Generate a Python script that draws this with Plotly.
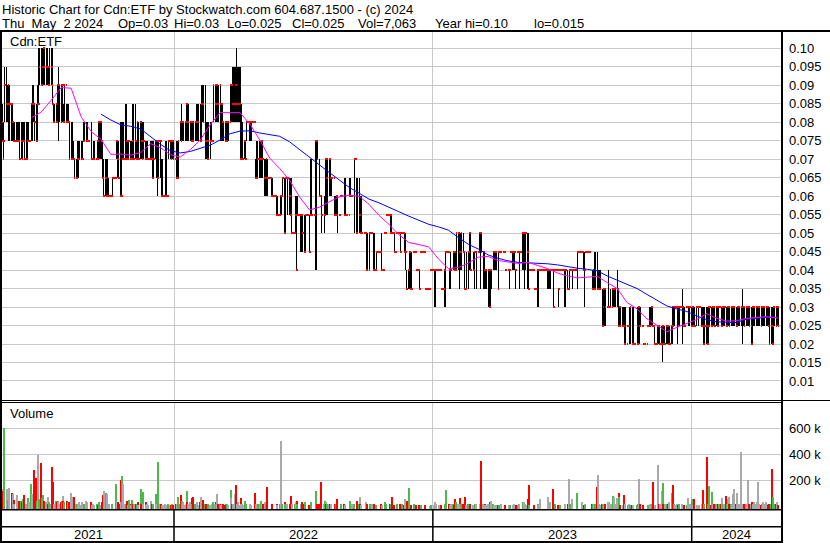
import pandas as pd
import plotly.graph_objects as go

# ---------------------------------------------------------------- data
TITLE = "Historic Chart for Cdn:ETF by Stockwatch.com 604.687.1500 - (c) 2024"
LAST_DATE = "2024-05-02"
X_RANGE = ["2021-05-03 11:00", "2024-05-05 22:00"]
HALF_CENT = 0.005   # price lists below are in half-cent units (16 -> $0.080)

hi_hc = [
    17,17,16,16,19,19,18,18,18,18, 17,17,16,16,16,16,15,16,15,16, 16,16,16,15,16,16,15,16,16,15,
    17,17,18,18,17,17,17,18,20,20, 20,20,20,20,20,20,20,20,19,20, 20,20,18,17,17,17,17,18,19,18,
    18,18,18,17,18,18,17,17,17,16, 16,16,15,15,14,14,14,15,15,15, 15,15,15,14,16,16,15,16,15,15,
    16,16,14,15,15,14,14,15,15,16,16, 16,15,14,14,14,14,14,12,13,12, 12,13,13,13,13,15,15,15,15,16,
    16,16,16,16,17,17,15,15,15,15, 15,15,17,17,17,15,16,16,15,16, 16,15,16,16,15,15,15,15,14,15,
    15,15,13,15,15,15,15,14,15,15, 14,14,14,12,15,15,12,12,15,15, 15,15,15,15,14,15,15,13,15,16,
    17,17,16,16,16,17,17,17,17,16, 16,16,16,16,16,16,17,17,17,17, 17,18,18,18,18,16,16,16,16,16,
    16,16,15,18,18,18,18,18,18,18, 17,17,17,16,16,16,16,16,16,16, 18,18,18,19,19,19,20,19,19,19,
    17,17,16,15,15,15,16,16,16,16,16, 16,16,16,16,14,14,15,15,15,15, 15,15,15,14,14,14,14,13,13,13,
    13,13,12,12,12,12,12,12,11,12, 12,12,13,13,13,13,13,13,13,13, 13,12,10,10,11,12,12,12,11,11,
    11,11,11,11,11,11,11,11,11,9, 14,11,11,11,11,15,15,15,14,12, 12,12,11,12,14,14,14,14,14,14,
    13,13,13,13,12,12,12,12,11,11, 12,12,12,13,13,11,11,11,11,13,12,
    12,12,14,14,14,14,13,13,12,12, 12,10,10,10,10,10,10,8,10,10, 10,10,10,8,8,9,9,9,9,9,
    10,10,8,10,10,11,11,11,11,11, 11,11,10,10,9,9,10,10,10,10,9, 10,10,10,10,9,8,8,9,9,9,
    7,9,9,9,9,8,8,8,7,9, 9,9,9,7,7,7,7,7,7,8, 8,8,8,8,8,8,8,8,8,8,
    7,7,7,8,9,9,9,8,8,9, 8,9,9,9,9,10,10,10,10,10, 10,10,9,9,7,9,9,9,10,10,
    8,9,8,9,9,9,9,9,10,10, 10,9,9,9,8,8,8,8,8,8, 8,9,9,9,9,9,9,9,9,9,
    9,9,9,9,8,8,8,8,8,9, 9,9,9,9,9,8,9,9,9,9, 9,10,10,10,10,10,10,10,8,8,
    8,8,8,7,7,7,8,8,8,8, 8,8,8,8,8,8,8,8,8,8,8, 8,8,6,8,8,8,7,7,8,8,
    8,8,8,8,8,8,7,8,8,8, 8,8,8,8,8,9,9,9,9,9, 9,9,9,8,9,9,9,9,9,9,
    8,8,8,9,9,9,8,8,8,8, 7,7,7,7,7,6,7,8,6,7, 7,7,7,7,7,8,7,7,6,6,
    5,6,6,6,6,4,5,5,6,6, 6,6,4,4,4,5,6,6,6,6, 5,5,4,4,4,4,5,5,5,6,6,
    6,5,5,5,4,5,5,5,5,5, 5,5,4,5,5,5,5,5,4,5, 6,6,6,6,6,6,6,6,6,6,
    7,6,6,5,6,6,6,6,6,6, 6,6,6,5,6,6,6,6,6,6, 6,6,6,6,6,6,6,6,6,6,
    6,6,6,6,6,6,6,6,6,6, 6,6,6,6,6,6,6,6,6,6, 6,6,6,6,6,6,6,6,6,6,
    7,7,6,6,6,6,6,6,6,6, 6,6,6,6,6,6,6,6,6,6, 6,6,6,6,6,6,6,6,6,6,
    6,6,6,6,6,6,6,6,
]
lo_hc = [
    15,15,14,14,16,16,16,15,15,15, 15,15,15,15,15,15,15,15,15,14, 14,14,15,15,14,14,14,15,15,15,
    15,15,16,16,15,15,15,17,17,18, 18,18,18,18,18,18,18,18,18,18, 18,17,17,16,16,16,16,16,15,16,
    16,16,16,16,16,18,16,16,16,14, 14,14,14,14,13,13,13,13,13,14, 14,14,14,14,15,15,15,15,15,15,
    14,14,14,14,14,14,14,14,14,14,14, 15,13,12,12,12,12,12,12,12,12, 12,12,13,13,13,14,14,13,13,12,
    12,14,14,14,14,14,14,14,14,14, 14,14,14,14,14,14,14,14,14,14, 14,14,14,14,14,14,14,14,14,14,
    14,13,13,13,14,13,13,12,13,13, 12,12,12,12,12,12,12,12,14,14, 14,14,15,14,14,13,13,13,13,15,
    15,15,15,15,15,15,15,15,15,15, 15,15,15,15,15,16,15,15,15,15, 15,16,16,16,16,14,14,14,14,14,
    15,15,15,16,16,16,17,16,16,17, 15,15,15,15,15,15,15,15,15,16, 16,16,16,16,16,17,16,16,16,16,
    14,14,14,14,14,14,15,16,16,15,16, 15,16,16,16,13,13,13,13,13,13, 13,13,13,12,12,12,12,13,13,13,
    13,12,12,12,12,12,11,11,11,11, 11,12,12,10,10,13,13,11,11,11, 10,10,10,10,10,11,8,11,11,11,
    9,11,9,9,9,11,11,11,9,9, 11,11,11,11,11,8,15,14,12,12, 12,10,11,10,11,11,11,11,12,12,
    12,12,13,13,11,11,11,10,11,11, 12,12,12,11,11,11,11,11,11,12,12,
    12,12,10,14,14,14,10,10,10,10, 10,10,10,10,10,8,8,8,8,10, 10,10,8,8,8,8,9,9,9,9,
    8,8,8,10,10,11,11,11,11,10, 10,10,10,9,9,9,10,10,10,9,9, 10,10,9,8,9,7,7,7,9,7,
    7,9,9,9,9,8,8,7,7,9, 9,9,9,7,7,7,7,7,7,8, 8,8,8,6,6,8,8,8,8,8,
    7,7,7,6,8,9,9,7,7,7, 8,8,8,8,8,8,8,9,7,8, 8,9,9,7,7,7,7,9,8,8,
    8,8,8,7,9,7,9,9,9,7, 9,7,7,7,7,7,6,6,6,6, 7,8,9,8,9,8,7,8,9,9,
    9,9,9,9,8,8,8,8,7,9, 9,8,9,8,9,7,9,9,7,9, 9,8,8,7,8,8,7,7,8,8,
    8,8,8,7,7,7,6,6,8,8, 8,8,8,8,8,8,7,7,7,7,8, 8,6,6,8,8,8,6,7,8,8,
    8,8,8,6,6,7,7,7,7,8, 7,8,8,8,8,7,9,9,9,9, 9,9,8,6,9,9,9,9,9,9,
    7,7,7,7,7,7,7,7,7,7, 5,5,5,5,5,6,6,6,6,6, 6,6,6,6,6,6,6,5,5,5,
    5,5,5,4,4,4,5,5,4,4, 4,4,4,4,4,5,4,4,4,5, 5,5,4,4,4,4,5,5,5,5,5,
    5,5,4,4,4,4,4,4,4,4, 3,4,4,4,4,5,4,4,4,4, 5,5,5,5,6,4,5,5,6,6,
    4,6,5,5,6,6,5,5,5,5, 5,5,5,5,5,6,6,5,6,5, 5,4,4,4,4,4,4,4,5,5,
    5,5,5,5,5,5,5,5,6,5, 5,5,5,5,5,5,5,5,5,5, 5,5,5,5,5,5,5,5,5,5,
    4,5,5,5,5,5,5,5,5,5, 4,4,5,5,5,5,5,5,5,5, 5,5,5,5,5,5,6,5,4,4,
    5,4,4,5,5,5,5,5,
]
cl_hc = [
    16,15,14,15,18,17,17,18,17,17, 17,16,16,15,15,15,15,15,15,14, 15,14,15,15,14,14,14,15,15,15,
    17,17,17,17,16,15,17,17,17,19, 18,19,19,20,19,19,19,19,18,19, 19,18,17,16,16,17,16,18,18,18,
    16,18,18,16,18,18,16,16,16,14, 14,14,14,14,13,13,13,14,14,14, 14,14,14,14,15,15,15,15,15,15,
    14,14,14,14,14,14,14,15,14,16,16, 15,13,12,12,13,12,12,12,12,12, 12,13,13,13,13,15,15,14,13,12,
    12,14,14,14,14,15,14,14,15,14, 14,15,14,14,15,14,16,14,14,16, 15,14,15,15,14,14,14,14,14,14,
    14,13,13,14,15,15,15,13,15,15, 12,12,12,12,12,12,12,12,15,15, 14,15,15,14,14,13,13,13,15,16,
    15,16,16,16,16,16,17,16,16,16, 16,15,16,15,16,16,16,16,16,15, 15,17,17,16,17,15,15,14,15,15,
    15,15,15,18,18,17,18,18,17,18, 17,17,17,16,15,16,15,16,16,16, 18,18,17,17,17,18,17,17,17,17,
    14,14,14,14,15,14,16,16,16,16,16, 16,16,16,16,13,13,13,14,14,14, 15,15,14,13,13,14,13,13,13,13,
    13,12,12,12,12,12,11,11,11,12, 12,12,13,10,13,13,13,13,12,11, 10,10,10,10,11,11,8,11,11,11,
    11,11,10,9,11,11,11,11,9,9, 11,11,11,11,11,15,15,14,12,12, 12,11,11,11,14,14,13,14,14,13,
    13,13,13,13,11,11,12,11,11,11, 12,12,12,11,11,11,11,11,11,12,12,
    12,12,14,14,14,14,10,11,11,10, 10,10,10,10,10,10,8,8,10,10, 10,10,8,8,8,9,9,9,9,9,
    8,8,8,10,10,11,11,11,11,10, 11,10,10,9,9,9,10,10,10,9,9, 10,10,9,9,9,7,8,9,9,7,
    7,9,9,9,9,8,8,7,7,9, 9,9,9,7,7,7,7,7,7,8, 8,8,8,8,8,8,8,8,8,8,
    7,7,7,8,9,9,9,8,8,8, 8,9,8,9,8,10,10,10,9,9, 10,9,9,7,7,7,9,9,10,8,
    8,8,8,9,9,9,9,9,10,10, 9,9,9,8,8,8,8,8,6,8, 8,9,9,9,9,9,7,9,9,9,
    9,9,9,9,8,8,8,8,8,9, 9,9,9,9,9,8,9,9,9,9, 9,10,10,10,10,10,9,7,8,8,
    8,8,8,7,7,7,8,8,8,8, 8,8,8,8,8,8,8,8,8,8,8, 8,6,6,8,8,8,7,7,8,8,
    8,8,8,8,8,7,7,7,8,8, 8,8,8,8,8,9,9,9,9,9, 9,9,8,8,9,9,9,9,9,9,
    7,8,7,7,8,7,7,7,7,7, 5,6,7,7,6,6,6,6,6,6, 6,7,7,7,7,7,7,5,6,5,
    5,5,5,4,4,4,5,5,5,6, 4,4,4,4,4,5,4,6,6,5, 5,5,4,4,4,4,5,5,5,5,6,
    5,5,4,4,4,5,5,4,4,4, 5,4,4,4,5,5,4,4,4,5, 6,5,6,6,6,6,5,6,6,6,
    6,6,5,5,6,6,6,6,6,5, 6,6,5,5,6,6,6,6,6,5, 5,4,4,5,5,4,6,5,6,5,
    6,6,6,5,6,6,5,6,6,5, 5,6,6,6,5,6,6,6,5,6, 6,6,6,6,5,5,6,6,6,6,
    6,6,6,5,6,6,6,6,5,5, 4,6,6,6,6,6,6,6,6,5, 6,6,6,6,6,6,6,5,4,5,
    5,4,5,6,5,6,6,5,
]
vol_k = [
    130,120,110,60,600,110,130,50,86,140, 86,100,98,51,20,86,0,30,0,40, 40,30,60,0,86,20,10,63,30,0,
    170,98,40,30,280,215,40,395,121,60, 330,63,30,86,40,30,20,74,20,30, 20,300,191,50,20,40,30,40,30,20,
    30,40,81,40,30,0,40,20,30,30, 100,40,40,74,74,20,10,20,20,30, 10,20,30,0,20,40,0,30,0,0,
    30,10,0,20,10,0,0,20,10,30,10, 20,30,86,121,105,40,98,0,20,0, 0,20,0,0,0,174,30,30,20,200,
    30,230,174,20,20,20,40,10,51,20, 10,51,20,20,20,20,20,30,10,133, 20,20,109,20,30,10,20,10,0,44,
    10,20,0,20,98,20,20,20,342,20, 20,10,10,0,20,10,0,0,20,10, 10,20,0,10,0,20,20,0,74,20,
    91,40,20,30,10,20,116,30,20,30, 10,67,20,70,20,0,20,30,10,30, 70,20,10,50,20,20,10,20,20,10,
    10,20,0,30,20,30,20,98,20,20, 20,10,20,20,10,20,10,20,10,0, 128,63,20,20,98,160,167,20,30,10,
    63,20,20,10,40,20,20,0,0,20,0, 10,0,0,0,105,20,20,20,10,20, 40,20,20,20,30,20,151,0,0,0,
    0,20,0,0,0,0,20,10,0,20, 500,0,20,30,20,0,0,20,20,20, 81,20,0,0,20,30,40,20,0,0,
    20,0,30,20,30,0,0,0,10,0, 30,0,0,0,0,116,0,20,20,0, 0,186,0,20,40,30,20,20,20,20,
    20,10,0,0,20,10,20,56,0,0, 20,0,0,20,10,0,0,0,0,40,0,
    0,15,20,0,0,0,40,20,70,20, 10,0,0,0,0,30,20,0,20,0, 0,15,20,0,0,10,0,0,0,0,
    20,10,0,30,0,20,0,0,0,20, 20,70,0,10,0,0,20,0,0,20,0, 20,0,10,60,0,40,140,20,0,10,
    0,20,0,0,0,10,0,10,0,10, 0,0,0,10,0,0,0,0,5,10, 0,10,0,30,20,0,0,10,0,0,
    10,0,0,20,126,0,0,20,10,20, 0,20,10,20,56,30,20,10,63,20, 20,20,0,74,0,10,20,0,20,20,
    0,10,0,20,0,20,0,0,20,20, 347,20,20,20,10,10,20,20,30,20, 40,20,0,10,0,10,10,10,0,0,
    20,0,0,0,10,0,0,0,10,10, 0,10,0,20,0,10,10,0,20,0, 0,30,20,30,20,10,56,163,10,0,
    0,0,0,10,0,0,20,10,0,56, 0,0,0,0,0,0,20,74,10,30,0, 0,137,0,20,0,0,10,0,10,0,
    0,0,0,20,10,20,0,214,20,0, 56,0,0,0,0,102,0,0,0,0, 30,0,10,20,10,0,0,0,0,0,
    20,20,20,20,20,151,244,20,20,10, 20,20,10,20,20,0,30,30,0,20, 20,81,20,70,20,63,20,102,70,10,
    0,10,10,86,20,0,10,0,20,10, 10,10,0,0,0,10,20,20,214,20, 0,0,10,0,0,0,10,0,0,20,20,
    186,0,10,10,0,20,319,20,20,121, 179,20,0,20,20,0,20,30,0,20, 105,167,20,10,0,20,10,20,0,0,
    20,0,10,0,10,0,63,20,20,20, 56,10,56,0,10,10,0,10,0,20, 20,128,20,20,20,377,20,20,160,10,
    109,20,20,20,20,10,20,20,0,20, 63,20,10,20,81,20,56,70,20,20, 10,93,30,137,20,102,20,20,20,415,
    20,20,10,20,20,20,200,20,20,20, 30,10,20,30,20,30,186,20,20,10, 20,10,30,20,30,20,0,10,20,20,
    10,284,74,20,20,20,30,7,
]

# moving averages every 10th trading day (+ last day)
ma_fast = [
    None,None,None,0.0812,0.0828,0.0860,0.0894,0.0892,0.0815,0.0775,
    0.0754,0.0713,0.0714,0.0711,0.0718,0.0742,0.0731,0.0712,0.0706,0.0726,
    0.0752,0.0793,0.0826,0.0826,0.0826,0.0795,0.0752,0.0703,0.0675,0.0643,
    0.0598,0.0563,0.0570,0.0585,0.0598,0.0603,0.0600,0.0578,0.0548,0.0524,
    0.0496,0.0475,0.0469,0.0463,0.0430,0.0404,0.0407,0.0419,0.0435,0.0437,
    0.0426,0.0421,0.0418,0.0421,0.0413,0.0404,0.0392,0.0384,0.0379,0.0380,
    0.0383,0.0366,0.0350,0.0312,0.0295,0.0268,0.0250,0.0233,0.0245,0.0255,
    0.0266,0.0282,0.0270,0.0262,0.0263,0.0269,0.0272,0.0274,0.0271,0.0270,
]
ma_slow = [
    None,None,None,None,None,None,None,None,None,None,
    0.0822,0.0806,0.0793,0.0789,0.0782,0.0762,0.0740,0.0723,0.0717,0.0721,
    0.0730,0.0738,0.0752,0.0769,0.0776,0.0777,0.0771,0.0766,0.0762,0.0747,
    0.0726,0.0705,0.0683,0.0664,0.0644,0.0624,0.0608,0.0592,0.0582,0.0569,
    0.0558,0.0546,0.0535,0.0524,0.0517,0.0508,0.0488,0.0470,0.0457,0.0441,
    0.0432,0.0425,0.0421,0.0420,0.0419,0.0417,0.0414,0.0409,0.0405,0.0402,
    0.0398,0.0384,0.0372,0.0362,0.0350,0.0334,0.0318,0.0303,0.0295,0.0288,
    0.0276,0.0266,0.0260,0.0259,0.0258,0.0267,0.0270,0.0272,0.0272,0.0272,
]

price_ticks = [0.01, 0.015, 0.02, 0.025, 0.03, 0.035, 0.04, 0.045, 0.05, 0.055,
               0.06, 0.065, 0.07, 0.075, 0.08, 0.085, 0.09, 0.095, 0.10]
price_labels = ["0.01", "0.015", "0.02", "0.025", "0.03", "0.035", "0.04", "0.045", "0.05", "0.055",
                "0.06", "0.065", "0.07", "0.075", "0.08", "0.085", "0.09", "0.095", "0.10"]
vol_ticks = [200, 400, 600]
vol_labels = ["200 k", "400 k", "600 k"]

header_fields = [("Thu\u00a0\u00a0May\u00a0\u00a02 2024", 1), ("Op=0.03", 117), ("Hi=0.03", 173),
                 ("Lo=0.025", 226), ("Cl=0.025", 291), ("Vol=7,063", 357),
                 ("Year hi=0.10", 434), ("lo=0.015", 533)]

# ---------------------------------------------------------------- build
N = len(cl_hc)
assert len(hi_hc) == N and len(lo_hc) == N and len(vol_k) == N
dates = pd.bdate_range(end=LAST_DATE, periods=N)
ma_dates = list(dates[::10]) + [dates[-1]]
assert len(ma_fast) == len(ma_dates) and len(ma_slow) == len(ma_dates)

hi = [v * HALF_CENT for v in hi_hc]
lo = [v * HALF_CENT for v in lo_hc]
cl = [v * HALF_CENT for v in cl_hc]

W, H = 830, 543
FONT = "Liberation Sans, Arial, Helvetica, sans-serif"
GRID = "#c8c8c8"
GREEN, RED, GRAY = "#4cb94c", "#ff0000", "#a9a9a9"
DAY_MS = 86400000
TICK_H = 0.0003      # height of the close tick (style)


def px(p):
    return p / W


def py(p):
    return 1 - p / H


# high-low bars (drawn as thin bars from low to high)
bar_x = [d for d, h, l in zip(dates, hi, lo) if h > l]
bar_base = [l for h, l in zip(hi, lo) if h > l]
bar_len = [h - l for h, l in zip(hi, lo) if h > l]

# volume colours from close-to-close change
vcol = []
prev = None
for c in cl_hc:
    if prev is None or c == prev:
        vcol.append(GRAY)
    elif c > prev:
        vcol.append(GREEN)
    else:
        vcol.append(RED)
    prev = c

VOL_FLOOR = -20.5
vx = [d for d, v in zip(dates, vol_k) if v > 0]
vy = [v - VOL_FLOOR for v in vol_k if v > 0]
vc = [c for c, v in zip(vcol, vol_k) if v > 0]

fig = go.Figure()
fig.add_trace(go.Bar(x=bar_x, y=bar_len, base=bar_base, width=0.25 * DAY_MS, offset=0,
                     marker=dict(color="black", line=dict(width=0)),
                     xaxis="x", yaxis="y"))
fig.add_trace(go.Bar(x=list(dates), y=[TICK_H] * N, base=[c - TICK_H / 2 for c in cl],
                     width=DAY_MS, offset=0, marker=dict(color=RED, line=dict(width=0)),
                     xaxis="x", yaxis="y"))
fig.add_trace(go.Scatter(x=ma_dates, y=ma_slow, mode="lines",
                         line=dict(color="#0000ff", width=1), xaxis="x", yaxis="y"))
fig.add_trace(go.Scatter(x=ma_dates, y=ma_fast, mode="lines",
                         line=dict(color="#ff00ff", width=1), xaxis="x", yaxis="y"))
fig.add_trace(go.Bar(x=vx, y=vy, base=VOL_FLOOR, width=1.6 * DAY_MS,
                     marker=dict(color=vc, line=dict(width=0)),
                     xaxis="x2", yaxis="y2"))

years = sorted(set(d.year for d in dates))
year_starts = [pd.Timestamp(f"{y}-01-01") for y in years[1:]]
edges = [pd.Timestamp(X_RANGE[0])] + year_starts + [pd.Timestamp(X_RANGE[1])]

xcommon = dict(type="date", range=X_RANGE,
               tickvals=[str(d) for d in year_starts], showticklabels=False, ticks="",
               showgrid=True, gridcolor=GRID, gridwidth=1, zeroline=False, showline=False,
               domain=[px(2), px(781)], fixedrange=True)
ycommon = dict(side="right", ticks="", showgrid=True, gridcolor=GRID, gridwidth=1,
               zeroline=False, showline=False, fixedrange=True,
               tickfont=dict(family=FONT, size=13, color="black"), ticklabelstandoff=7)

TXT = dict(family=FONT, size=13, color="black")
annotations = [dict(text=TITLE, x=px(1), y=py(9.5), xref="paper", yref="paper",
                    xanchor="left", yanchor="middle", showarrow=False, borderpad=0, font=TXT)]
for txt, x in header_fields:
    annotations.append(dict(text=txt, x=px(x), y=py(23), xref="paper", yref="paper",
                            xanchor="left", yanchor="middle", showarrow=False, borderpad=0,
                            font=TXT))
annotations.append(dict(text="Cdn:ETF", x=px(9), y=py(41.5), xref="paper", yref="paper",
                        xanchor="left", yanchor="middle", showarrow=False, borderpad=0, font=TXT))
annotations.append(dict(text="Volume", x=px(9), y=py(413.5), xref="paper", yref="paper",
                        xanchor="left", yanchor="middle", showarrow=False, borderpad=0, font=TXT))
for k, y in enumerate(years):
    mid = edges[k] + (edges[k + 1] - edges[k]) / 2
    annotations.append(dict(text=str(y), x=str(mid), y=py(534.5), xref="x", yref="paper",
                            xanchor="center", yanchor="middle", showarrow=False,
                            borderpad=0, font=TXT))


def band(x0, x1, y0, y1):
    return dict(type="rect", xref="paper", yref="paper", x0=px(x0), x1=px(x1),
                y0=py(y1), y1=py(y0), fillcolor="black", line=dict(width=0), layer="above")


shapes = [
    band(0, 830, 30, 32),        # top rule
    band(0, 2, 30, 543),         # left border
    band(781, 783, 30, 543),     # right border
    band(0, 830, 400, 401),      # price / volume separator
    band(0, 781, 402, 403),
    band(0, 781, 509, 510.5),    # volume bottom
    band(0, 781, 526, 527.5),    # date strip rule
    band(0, 781, 541, 543),      # bottom rule
]
for d in year_starts:
    shapes.append(dict(type="line", xref="x", yref="paper", x0=str(d), x1=str(d),
                       y0=py(541), y1=py(510), line=dict(color="black", width=1.5),
                       layer="above"))

fig.update_layout(
    width=W, height=H, margin=dict(l=0, r=0, t=0, b=0),
    paper_bgcolor="white", plot_bgcolor="white", showlegend=False,
    hovermode=False, bargap=0, barmode="overlay",
    xaxis=dict(anchor="y", **xcommon),
    xaxis2=dict(anchor="y2", **xcommon),
    yaxis=dict(anchor="x", domain=[py(400), py(32)], range=[0.004851, 0.104418],
               tickvals=price_ticks, ticktext=price_labels, **ycommon),
    yaxis2=dict(anchor="x2", domain=[py(509), py(403)], range=[VOL_FLOOR, 794.9],
                tickvals=vol_ticks, ticktext=vol_labels, **ycommon),
    annotations=annotations, shapes=shapes,
)

fig.write_html("out.html", config={"displayModeBar": False},
               post_script="document.body.style.margin='0px';")
